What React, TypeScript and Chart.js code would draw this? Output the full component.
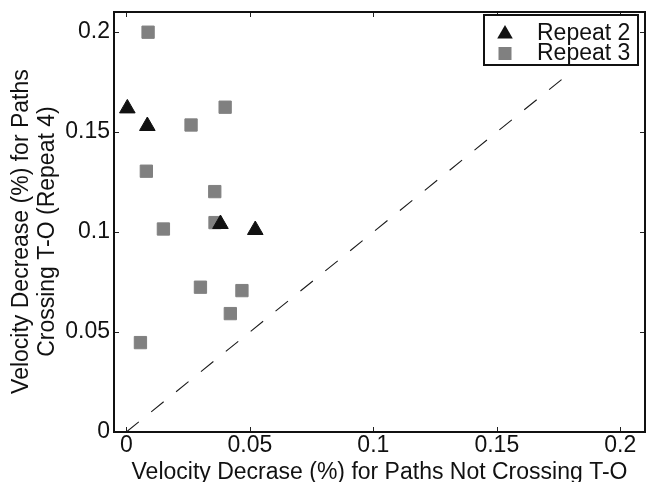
import React, { useEffect, useRef } from "react";
import { Chart, registerables } from "chart.js";

Chart.register(...registerables);

// ---- data ----
const repeat2X = [0.0004, 0.0085, 0.0381, 0.0522];
const repeat2Y = [0.1618, 0.153, 0.104, 0.101];

const repeat3X = [0.0088, 0.04, 0.0262, 0.0081, 0.0358, 0.0359, 0.015, 0.03, 0.0468, 0.0421, 0.0057];
const repeat3Y = [0.1999, 0.1624, 0.1535, 0.1304, 0.1202, 0.1047, 0.1015, 0.0724, 0.0707, 0.0592, 0.0447];

const diagonalX = [0, 0.18];
const diagonalY = [0, 0.18];

const xTickValues = [0, 0.05, 0.1, 0.15, 0.2];
const xTickLabels = ["0", "0.05", "0.1", "0.15", "0.2"];
const yTickValues = [0, 0.05, 0.1, 0.15, 0.2];
const yTickLabels = ["0", "0.05", "0.1", "0.15", "0.2"];

const seriesLabels = ["Repeat 2", "Repeat 3"];
const xTitle = "Velocity Decrase (%) for Paths Not Crossing T-O";
const yTitle = ["Velocity Decrease (%) for Paths", "Crossing T-O (Repeat 4)"];

const FONT = "'Liberation Sans', Arial, Helvetica, sans-serif";
const INK = "#111111";
const GRAY = "#808080";

const framePlugin = {
  id: "matlabFrame",
  afterDatasetsDraw(chart: any) {
    const { ctx, chartArea: a, scales } = chart;
    ctx.save();
    // inward ticks on all four sides
    ctx.strokeStyle = "#222222";
    ctx.lineWidth = 1;
    ctx.beginPath();
    scales.x.ticks.forEach((t: any) => {
      const px = Math.round(scales.x.getPixelForValue(t.value)) + 0.5;
      ctx.moveTo(px, a.bottom);
      ctx.lineTo(px, a.bottom - 5);
      ctx.moveTo(px, a.top);
      ctx.lineTo(px, a.top + 5);
    });
    scales.y.ticks.forEach((t: any) => {
      const py = Math.round(scales.y.getPixelForValue(t.value)) + 0.5;
      ctx.moveTo(a.left, py);
      ctx.lineTo(a.left + 5, py);
      ctx.moveTo(a.right, py);
      ctx.lineTo(a.right - 5, py);
    });
    ctx.stroke();
    // axes box
    ctx.strokeStyle = INK;
    ctx.lineWidth = 2;
    ctx.strokeRect(a.left, a.top, a.right - a.left, a.bottom - a.top);

    // legend
    const bx = a.right - 161;
    const by = a.top + 3;
    const bw = 154;
    const bh = 50;
    ctx.fillStyle = "#ffffff";
    ctx.fillRect(bx, by, bw, bh);
    ctx.strokeStyle = INK;
    ctx.lineWidth = 2;
    ctx.strokeRect(bx, by, bw, bh);

    const ds = chart.data.datasets;
    // row 1: triangle
    const mx = bx + 21;
    const r = 9;
    const ty = by + 19;
    ctx.fillStyle = ds[0].backgroundColor;
    ctx.beginPath();
    ctx.moveTo(mx, ty - r);
    ctx.lineTo(mx + r * Math.sin((2 * Math.PI) / 3), ty - r * Math.cos((2 * Math.PI) / 3));
    ctx.lineTo(mx + r * Math.sin((4 * Math.PI) / 3), ty - r * Math.cos((4 * Math.PI) / 3));
    ctx.closePath();
    ctx.fill();
    // row 2: square
    const sy = by + 38.5;
    ctx.fillStyle = ds[1].backgroundColor;
    ctx.fillRect(mx - 6.5, sy - 6.5, 13, 13);

    ctx.fillStyle = INK;
    ctx.font = `23px ${FONT}`;
    ctx.textAlign = "left";
    ctx.textBaseline = "alphabetic";
    ctx.fillText(ds[0].label, bx + 53, by + 24.5);
    ctx.fillText(ds[1].label, bx + 53, by + 44.5);
    ctx.restore();
  },
};

const zeroPadding = (s: any) => {
  s.paddingTop = 0;
  s.paddingBottom = 0;
  s.paddingLeft = 0;
  s.paddingRight = 0;
};

export default function App() {
  const ref = useRef<HTMLCanvasElement | null>(null);

  useEffect(() => {
    if (!ref.current) return;
    const pad = "\u00a0\u00a0\u00a0";
    const chart = new Chart(ref.current, {
      type: "scatter",
      data: {
        datasets: [
          {
            label: seriesLabels[0],
            data: repeat2X.map((x, i) => ({ x, y: repeat2Y[i] })),
            pointStyle: "triangle",
            pointRadius: 9,
            backgroundColor: INK,
            borderColor: INK,
            borderWidth: 1,
          },
          {
            label: seriesLabels[1],
            data: repeat3X.map((x, i) => ({ x, y: repeat3Y[i] })),
            pointStyle: "rect",
            pointRadius: 8.7,
            backgroundColor: GRAY,
            borderColor: GRAY,
            borderWidth: 1,
          },
          {
            label: "diagonal",
            type: "line",
            data: diagonalX.map((x, i) => ({ x, y: diagonalY[i] })),
            showLine: true,
            borderColor: "#1a1a1a",
            borderWidth: 1.1,
            borderDash: [16, 16],
            pointRadius: 0,
            fill: false,
          } as any,
        ],
      },
      options: {
        responsive: false,
        animation: false,
        events: [],
        layout: { autoPadding: false, padding: { left: 0, top: 12, right: 2, bottom: 0 } },
        plugins: {
          legend: { display: false },
          tooltip: { enabled: false },
        },
        scales: {
          x: {
            type: "linear",
            min: -0.005,
            max: 0.21,
            grid: { display: false, drawTicks: false },
            border: { display: false },
            afterBuildTicks: (s: any) => {
              s.ticks = xTickValues.map((v) => ({ value: v }));
            },
            afterFit: (s: any) => {
              s.height = 50;
              zeroPadding(s);
            },
            ticks: {
              padding: 0,
              color: INK,
              font: { family: FONT, size: 23 },
              maxRotation: 0,
              autoSkip: false,
              callback: (_v: any, i: number) => xTickLabels[i],
            },
            title: {
              display: true,
              text: xTitle,
              color: INK,
              font: { family: FONT, size: 23, lineHeight: 0.8 },
              padding: { top: 0, bottom: 0 },
            },
          },
          y: {
            type: "linear",
            min: 0,
            max: 0.21,
            grid: { display: false, drawTicks: false },
            border: { display: false },
            afterBuildTicks: (s: any) => {
              s.ticks = yTickValues.map((v) => ({ value: v }));
            },
            afterFit: (s: any) => {
              s.width = 114;
              zeroPadding(s);
            },
            ticks: {
              padding: 4,
              color: INK,
              font: { family: FONT, size: 23 },
              autoSkip: false,
              callback: (_v: any, i: number) => yTickLabels[i],
            },
            title: {
              display: true,
              text: yTitle.map((t) => t + pad),
              color: INK,
              font: { family: FONT, size: 23, lineHeight: 1.15 },
              padding: { top: 8, bottom: 0 },
            },
          },
        },
      },
      plugins: [framePlugin],
    });
    return () => chart.destroy();
  }, []);

  return (
    <div style={{ position: "fixed", left: 0, top: 0, width: 647, height: 482, background: "#fff" }}>
      <canvas ref={ref} width={647} height={482} style={{ width: 647, height: 482, display: "block" }} />
    </div>
  );
}
